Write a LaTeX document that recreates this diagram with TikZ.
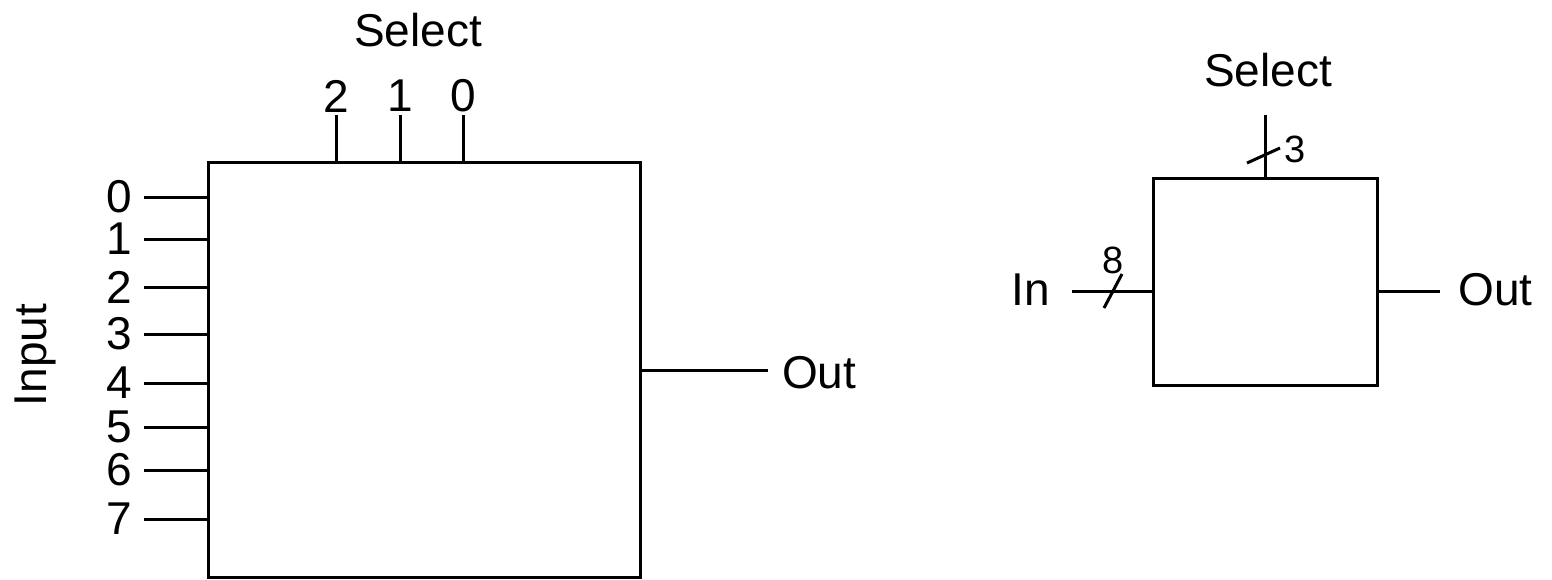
\documentclass[tikz,border=0pt]{standalone}
\usepackage{fontspec}
\setmainfont{Liberation Sans}
\begin{document}
\begin{tikzpicture}[x=1pt,y=-1pt,
  wire/.style={line width=3pt},
  blk/.style={draw,line width=3pt,inner sep=0pt},
  lbl/.style={inner sep=0pt,font=\fontsize{46}{52}\selectfont},
  small/.style={inner sep=0pt,font=\fontsize{38}{42}\selectfont}]
\useasboundingbox (0,0) rectangle (1552,579);

% ---- 8-to-1 multiplexer, pin-level view ----
\node[blk,minimum width=432pt,minimum height=415pt] (mux) at (424,369.5) {};
\node[lbl] (selA) at (418,30) {Select};
\foreach \b/\x in {2/336,1/400,0/463}{
  \node[lbl] (s\b) at (\x,96) {\b};
  \coordinate (st\b) at (\x,115);
  \draw[wire] (st\b) -- (st\b |- mux.north);
}
\foreach \i/\y in {0/197,1/239,2/287,3/334,4/383,5/427,6/470,7/519}{
  \node[lbl,anchor=east] (d\i) at (132,\y) {\i};
  \coordinate (dt\i) at (144,\y);
  \draw[wire] (dt\i) -- (dt\i -| mux.west);
}
\node[lbl,rotate=90] (inp) at (35,355) {Input};
\node[lbl,anchor=west] (outA) at (782,373) {Out};
\coordinate (oa) at (768,370);
\draw[wire] (oa -| mux.east) -- (oa);

% ---- the same multiplexer as a bus-level block ----
\node[blk,minimum width=224pt,minimum height=207pt] (mb) at (1265,281.5) {};
\node[lbl] (selB) at (1268,70) {Select};
\coordinate (sb) at (1265,115);
\draw[wire] (sb) -- (sb |- mb.north);
\coordinate (sl1) at (1247,163);
\coordinate (sl2) at (1280,148);
\draw[wire] (sl1) -- (sl2);
\node[small] (w3) at (1295,149) {3};

\node[lbl,anchor=east] (inB) at (1050,290) {In};
\coordinate (ib) at (1072,291);
\draw[wire] (ib) -- (ib -| mb.west);
\coordinate (il1) at (1104,308);
\coordinate (il2) at (1122,274);
\draw[wire] (il1) -- (il2);
\node[small] (w8) at (1113,260) {8};

\node[lbl,anchor=west] (outB) at (1458,290) {Out};
\coordinate (ob) at (1440,291);
\draw[wire] (ob -| mb.east) -- (ob);
\end{tikzpicture}
\end{document}
